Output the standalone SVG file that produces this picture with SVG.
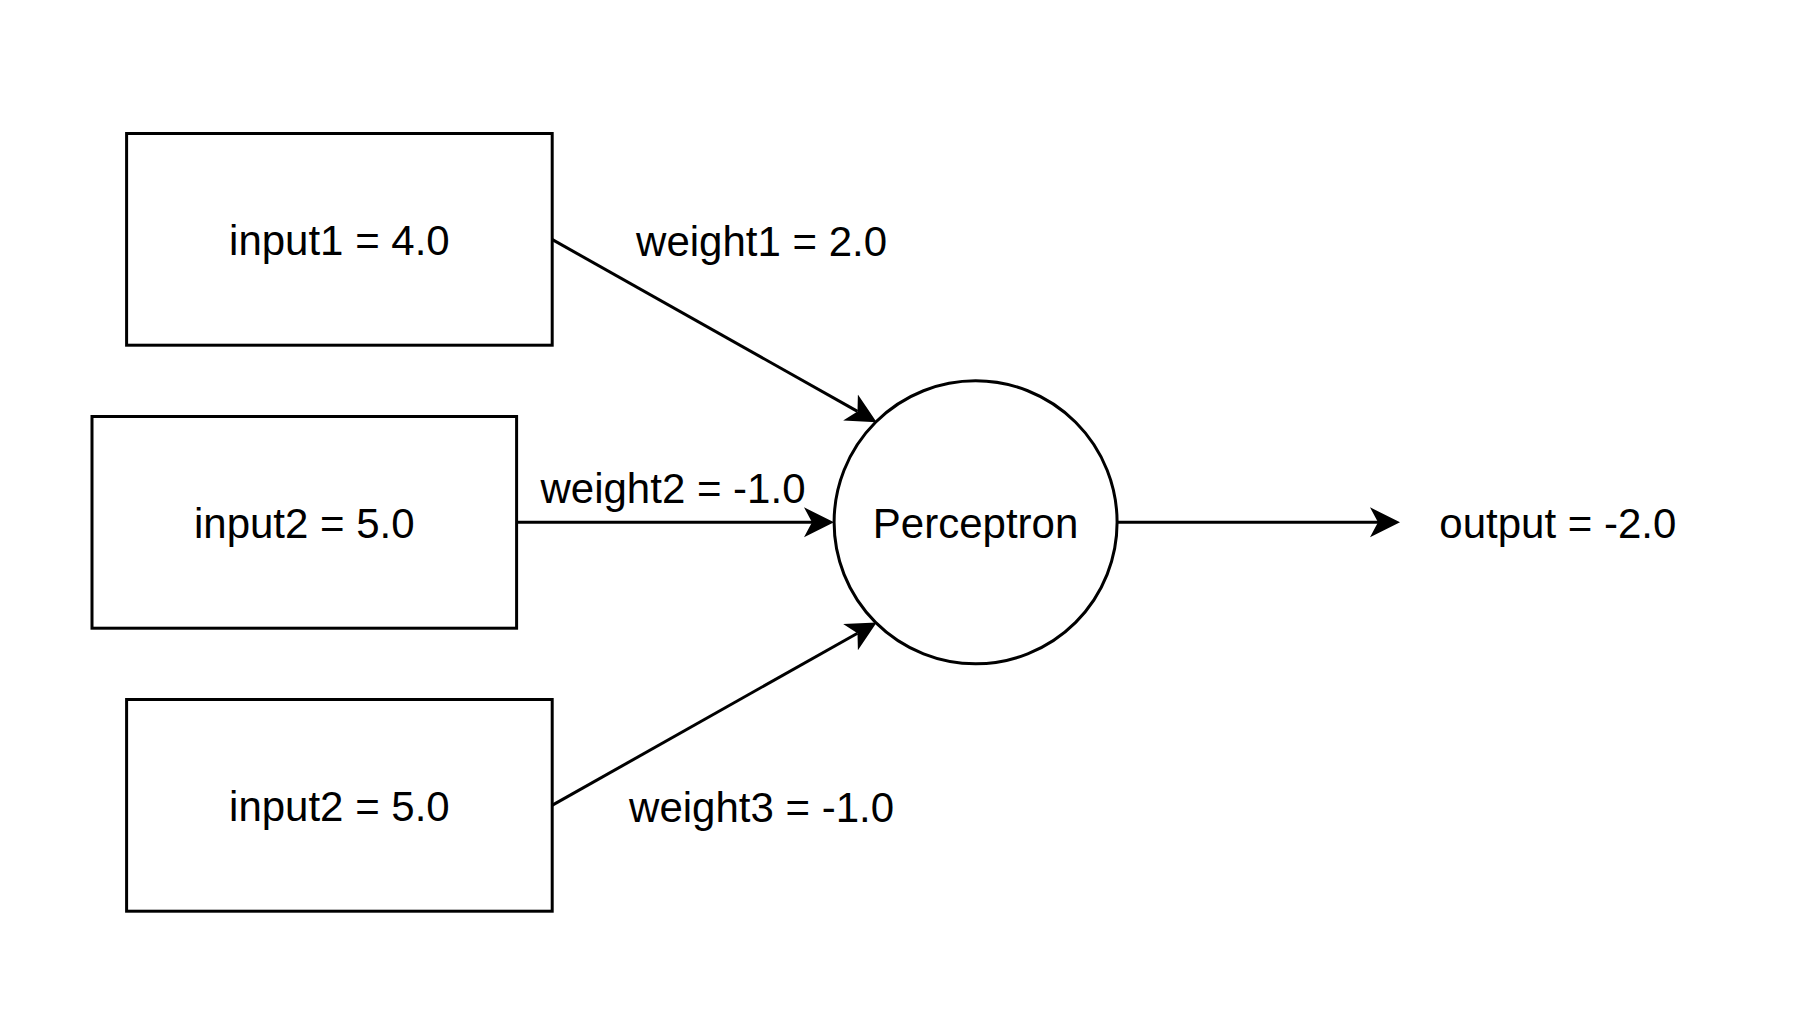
<svg xmlns="http://www.w3.org/2000/svg" width="1804" height="1012" viewBox="0 0 1804 1012">
<style>
.shape{fill:#ffffff;stroke:#000000;stroke-width:3}
.edge{fill:none;stroke:#000000;stroke-width:3}
text{font-family:"Liberation Sans",Arial,Helvetica,sans-serif;font-size:42px;fill:#000000;text-anchor:middle}
</style>
<defs>
<marker id="arrow" markerUnits="userSpaceOnUse" markerWidth="32" markerHeight="32" viewBox="0 -16 32 32" refX="8" refY="0" orient="auto">
<path d="M 30 0 L 0 -15 L 8 0 L 0 15 Z" fill="#000000"/>
</marker>
</defs>
<rect width="1804" height="1012" fill="#ffffff"/>
<g id="connectors">
<line class="edge" x1="552" y1="239.4" x2="857.5" y2="411.4" marker-end="url(#arrow)"/>
<line class="edge" x1="516.6" y1="522.3" x2="812" y2="522.3" marker-end="url(#arrow)"/>
<line class="edge" x1="552" y1="805.4" x2="857.5" y2="633.2" marker-end="url(#arrow)"/>
<line class="edge" x1="1117" y1="522.3" x2="1378" y2="522.3" marker-end="url(#arrow)"/>
<text x="761.6" y="255.5">weight1 = 2.0</text>
<text x="673" y="503">weight2 = -1.0</text>
<text x="761.6" y="821.5">weight3 = -1.0</text>
</g>
<g id="input1">
<rect class="shape" x="126.6" y="133.5" width="425.6" height="211.7"/>
<text x="339.4" y="255">input1 = 4.0</text>
</g>
<g id="input2">
<rect class="shape" x="92" y="416.5" width="424.6" height="211.7"/>
<text x="304.3" y="537.5">input2 = 5.0</text>
</g>
<g id="input3">
<rect class="shape" x="126.6" y="699.5" width="425.6" height="211.7"/>
<text x="339.4" y="820.5">input2 = 5.0</text>
</g>
<g id="perceptron">
<circle class="shape" cx="975.6" cy="522.3" r="141.5"/>
<text x="975.6" y="537.5">Perceptron</text>
</g>
<g id="output">
<text x="1557.8" y="538">output = -2.0</text>
</g>
</svg>
